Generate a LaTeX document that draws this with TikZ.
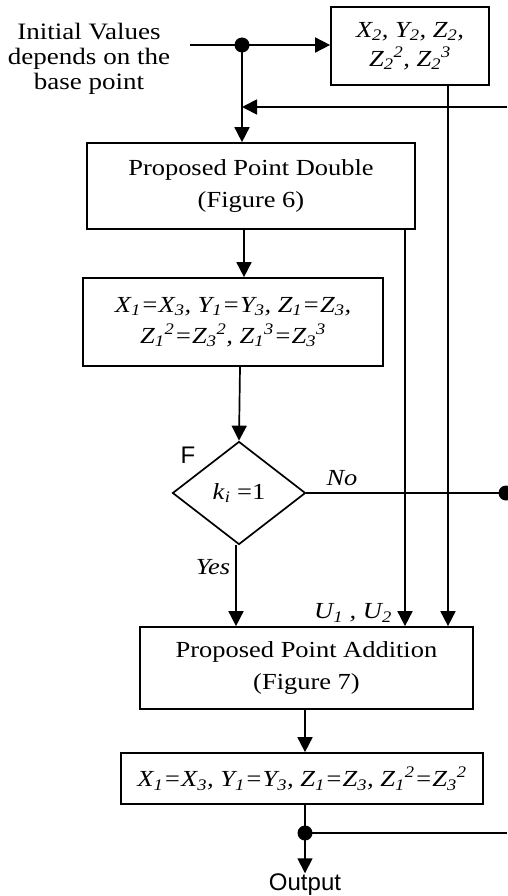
\documentclass[tikz,border=0pt]{standalone}
\usepackage{fontspec}
\usepackage{amsmath}
\setmainfont[FakeStretch=1.15]{Liberation Serif}
\setsansfont{Liberation Sans}
\usetikzlibrary{arrows.meta,shapes.geometric}
\newcommand\sbb[1]{$_{\textit{#1}}$}
\newcommand\sbp[2]{$_{\textit{#1}}{}^{\textit{#2}}$}
\begin{document}
\begin{tikzpicture}[x=1pt,y=-1pt,
  line width=1.7pt,
  arr/.style={-{Triangle[length=15pt,width=15pt]}},
  box/.style={draw,rectangle,inner sep=0pt,align=center,font=\fontsize{23}{32}\selectfont},
  lbl/.style={inner sep=0pt,font=\fontsize{23}{25}\selectfont},
  dotc/.style={fill=black,circle,inner sep=0pt,minimum size=15pt}
]
\useasboundingbox (0,0) rectangle (507,896);
% nodes
\node[lbl,align=center,font=\fontsize{23.5}{25}\selectfont] (init) at (89,59) {Initial Values\\depends on the\\base point};
\node[box,minimum width=158pt,minimum height=78pt,font=\fontsize{23}{29}\selectfont\itshape] (vals) at (410,46)
  {X\sbb{2}, Y\sbb{2}, Z\sbb{2},\\ Z\sbp{2}{2}, Z\sbp{2}{3}};
\node[box,minimum width=328pt,minimum height=86pt] (dbl) at (251,186) {Proposed Point Double\\(Figure 6)};
\node[box,minimum width=300pt,minimum height=88pt,font=\fontsize{23}{31}\selectfont\itshape] (xa) at (233,322)
  {X\sbb{1}=X\sbb{3}, Y\sbb{1}=Y\sbb{3}, Z\sbb{1}=Z\sbb{3},\\ Z\sbp{1}{2}=Z\sbp{3}{2}, Z\sbp{1}{3}=Z\sbp{3}{3}};
\node[draw,diamond,inner sep=0pt,minimum width=133pt,minimum height=103pt,font=\fontsize{23}{25}\selectfont] (dia) at (239,493)
  {\textit{k}\sbb{i} =1};
\node[box,minimum width=333pt,minimum height=82pt] (add) at (306.5,668) {Proposed Point Addition\\(Figure 7)};
\node[box,minimum width=362pt,minimum height=51pt,font=\fontsize{23}{28}\selectfont\itshape] (fin) at (302,778.5)
  {X\sbb{1}=X\sbb{3}, Y\sbb{1}=Y\sbb{3}, Z\sbb{1}=Z\sbb{3}, Z\sbp{1}{2}=Z\sbp{3}{2}};
\node[lbl,font=\fontsize{24}{25}\sffamily] (F) at (188,455) {F};
\node[lbl,font=\fontsize{23}{25}\selectfont\itshape] (no) at (342,478) {No};
\node[lbl,font=\fontsize{23}{25}\selectfont\itshape] (yes) at (213,567) {Yes};
\node[lbl,font=\fontsize{23}{25}\selectfont\itshape] (uu) at (353,613) {U\sbb{1} , U\sbb{2}};
\node[lbl,font=\fontsize{24}{26}\sffamily] (out) at (305,885) {Output};
% coordinates
\coordinate (st) at (190,45);
\coordinate (d1) at (242,45);
\coordinate (fb) at (507,107);
\coordinate (ca) at (448,0);
\coordinate (cb) at (405,0);
\coordinate (c2) at (244,0);
\coordinate (c3) at (240,0);
\coordinate (c4) at (236,0);
\coordinate (d3) at (506,493);
\coordinate (d2) at (305,833);
\coordinate (er) at (507,833);
% connectors
\draw[arr] (st) -- (vals.west |- st);
\draw[arr] (d1) -- (dbl.north -| d1);
\draw[arr] (fb) -- (fb -| d1);
\draw[arr] (vals.south -| ca) -- (add.north -| ca);
\draw[arr] (dbl.south -| cb) -- (add.north -| cb);
\draw[arr] (dbl.south -| c2) -- (xa.north -| c2);
\draw[arr] (xa.south -| c3) -- (dia.north);
\draw (dia.east) -- (d3);
\draw[arr] (dia.south -| c4) -- (add.north -| c4);
\draw[arr] (add.south -| d2) -- (fin.north -| d2);
\draw (fin.south -| d2) -- (d2);
\draw[arr] (d2) -- (out.north);
\draw (d2) -- (er);
\node[dotc] at (d1) {};
\node[dotc] at (d3) {};
\node[dotc] at (d2) {};
\end{tikzpicture}
\end{document}
